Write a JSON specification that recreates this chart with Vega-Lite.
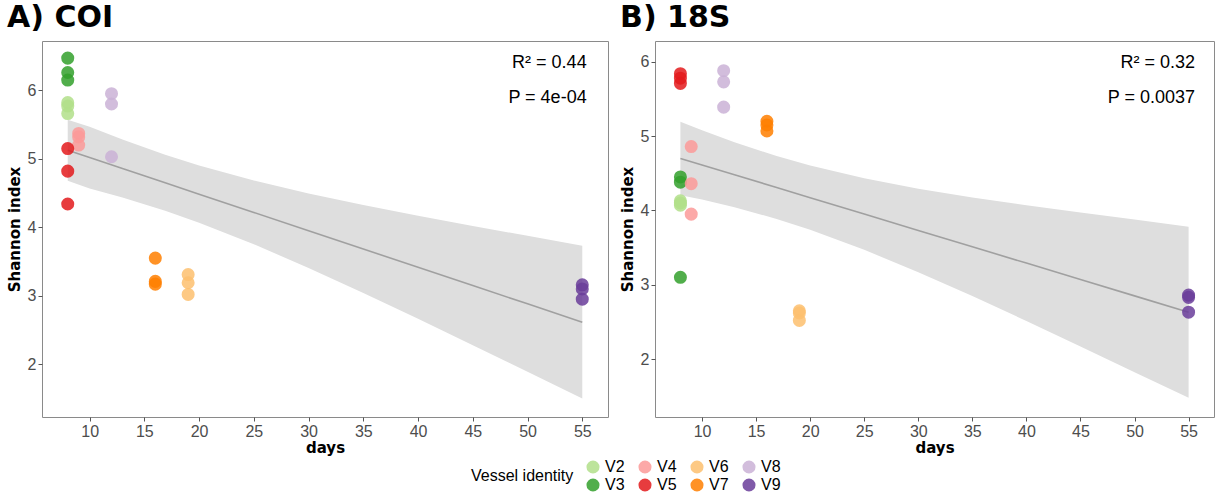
{
  "$schema": "https://vega.github.io/schema/vega-lite/v6.json",
  "padding": {"left": 6, "top": 2, "right": 0, "bottom": 0},
  "background": "white",
  "spacing": 10,
  "config": {
    "view": {"stroke": "#8a8a8a", "strokeWidth": 1},
    "axis": {
      "domain": false,
      "grid": false,
      "ticks": true,
      "tickColor": "#555555",
      "tickSize": 4,
      "labelColor": "#4d4d4d",
      "labelFont": "Liberation Sans",
      "labelFontSize": 16,
      "labelPadding": 2,
      "titleFont": "DejaVu Sans",
      "titleFontSize": 15,
      "titleFontWeight": "bold",
      "titleColor": "black"
    },
    "title": {"font": "DejaVu Sans", "fontSize": 30, "fontWeight": "bold", "color": "black", "anchor": "start", "frame": "bounds", "offset": 8},
    "legend": {"labelFont": "Liberation Sans", "titleFont": "Liberation Sans"}
  },
  "datasets": {
    "pts": [
      {"panel": "COI", "vessel": "V2", "days": 8, "shannon": 5.82},
      {"panel": "COI", "vessel": "V2", "days": 8, "shannon": 5.77},
      {"panel": "COI", "vessel": "V2", "days": 8, "shannon": 5.66},
      {"panel": "COI", "vessel": "V3", "days": 8, "shannon": 6.47},
      {"panel": "COI", "vessel": "V3", "days": 8, "shannon": 6.26},
      {"panel": "COI", "vessel": "V3", "days": 8, "shannon": 6.15},
      {"panel": "COI", "vessel": "V4", "days": 9, "shannon": 5.37},
      {"panel": "COI", "vessel": "V4", "days": 9, "shannon": 5.32},
      {"panel": "COI", "vessel": "V4", "days": 9, "shannon": 5.2},
      {"panel": "COI", "vessel": "V5", "days": 8, "shannon": 5.15},
      {"panel": "COI", "vessel": "V5", "days": 8, "shannon": 4.82},
      {"panel": "COI", "vessel": "V5", "days": 8, "shannon": 4.34},
      {"panel": "COI", "vessel": "V6", "days": 19, "shannon": 3.31},
      {"panel": "COI", "vessel": "V6", "days": 19, "shannon": 3.19},
      {"panel": "COI", "vessel": "V6", "days": 19, "shannon": 3.02},
      {"panel": "COI", "vessel": "V7", "days": 16, "shannon": 3.55},
      {"panel": "COI", "vessel": "V7", "days": 16, "shannon": 3.21},
      {"panel": "COI", "vessel": "V7", "days": 16, "shannon": 3.17},
      {"panel": "COI", "vessel": "V8", "days": 12, "shannon": 5.95},
      {"panel": "COI", "vessel": "V8", "days": 12, "shannon": 5.8},
      {"panel": "COI", "vessel": "V8", "days": 12, "shannon": 5.03},
      {"panel": "COI", "vessel": "V9", "days": 55, "shannon": 3.16},
      {"panel": "COI", "vessel": "V9", "days": 55, "shannon": 3.1},
      {"panel": "COI", "vessel": "V9", "days": 55, "shannon": 2.95},
      {"panel": "18S", "vessel": "V2", "days": 8, "shannon": 4.13},
      {"panel": "18S", "vessel": "V2", "days": 8, "shannon": 4.1},
      {"panel": "18S", "vessel": "V2", "days": 8, "shannon": 4.07},
      {"panel": "18S", "vessel": "V3", "days": 8, "shannon": 4.45},
      {"panel": "18S", "vessel": "V3", "days": 8, "shannon": 4.38},
      {"panel": "18S", "vessel": "V3", "days": 8, "shannon": 3.1},
      {"panel": "18S", "vessel": "V4", "days": 9, "shannon": 4.86},
      {"panel": "18S", "vessel": "V4", "days": 9, "shannon": 4.36},
      {"panel": "18S", "vessel": "V4", "days": 9, "shannon": 3.95},
      {"panel": "18S", "vessel": "V5", "days": 8, "shannon": 5.84},
      {"panel": "18S", "vessel": "V5", "days": 8, "shannon": 5.78},
      {"panel": "18S", "vessel": "V5", "days": 8, "shannon": 5.71},
      {"panel": "18S", "vessel": "V6", "days": 19, "shannon": 2.65},
      {"panel": "18S", "vessel": "V6", "days": 19, "shannon": 2.62},
      {"panel": "18S", "vessel": "V6", "days": 19, "shannon": 2.52},
      {"panel": "18S", "vessel": "V7", "days": 16, "shannon": 5.2},
      {"panel": "18S", "vessel": "V7", "days": 16, "shannon": 5.15},
      {"panel": "18S", "vessel": "V7", "days": 16, "shannon": 5.07},
      {"panel": "18S", "vessel": "V8", "days": 12, "shannon": 5.88},
      {"panel": "18S", "vessel": "V8", "days": 12, "shannon": 5.73},
      {"panel": "18S", "vessel": "V8", "days": 12, "shannon": 5.39},
      {"panel": "18S", "vessel": "V9", "days": 55, "shannon": 2.86},
      {"panel": "18S", "vessel": "V9", "days": 55, "shannon": 2.83},
      {"panel": "18S", "vessel": "V9", "days": 55, "shannon": 2.63}
    ],
    "fit": [
      {"panel": "COI", "days": 8, "fit": 5.125, "lo": 4.68, "hi": 5.57},
      {"panel": "COI", "days": 10, "fit": 5.018, "lo": 4.568, "hi": 5.468},
      {"panel": "COI", "days": 13, "fit": 4.858, "lo": 4.436, "hi": 5.28},
      {"panel": "COI", "days": 16.9, "fit": 4.65, "lo": 4.242, "hi": 5.058},
      {"panel": "COI", "days": 20, "fit": 4.484, "lo": 4.067, "hi": 4.901},
      {"panel": "COI", "days": 25, "fit": 4.217, "lo": 3.752, "hi": 4.682},
      {"panel": "COI", "days": 30, "fit": 3.95, "lo": 3.407, "hi": 4.493},
      {"panel": "COI", "days": 35, "fit": 3.683, "lo": 3.041, "hi": 4.325},
      {"panel": "COI", "days": 40, "fit": 3.416, "lo": 2.663, "hi": 4.169},
      {"panel": "COI", "days": 45, "fit": 3.149, "lo": 2.278, "hi": 4.02},
      {"panel": "COI", "days": 50, "fit": 2.882, "lo": 1.889, "hi": 3.875},
      {"panel": "COI", "days": 55, "fit": 2.615, "lo": 1.5, "hi": 3.73},
      {"panel": "18S", "days": 8, "fit": 4.7, "lo": 4.205, "hi": 5.195},
      {"panel": "18S", "days": 10, "fit": 4.612, "lo": 4.146, "hi": 5.078},
      {"panel": "18S", "days": 13, "fit": 4.48, "lo": 4.043, "hi": 4.917},
      {"panel": "18S", "days": 16.9, "fit": 4.308, "lo": 3.886, "hi": 4.731},
      {"panel": "18S", "days": 20, "fit": 4.172, "lo": 3.74, "hi": 4.604},
      {"panel": "18S", "days": 25, "fit": 3.951, "lo": 3.47, "hi": 4.432},
      {"panel": "18S", "days": 30, "fit": 3.731, "lo": 3.169, "hi": 4.293},
      {"panel": "18S", "days": 35, "fit": 3.511, "lo": 2.847, "hi": 4.175},
      {"panel": "18S", "days": 40, "fit": 3.291, "lo": 2.512, "hi": 4.07},
      {"panel": "18S", "days": 45, "fit": 3.071, "lo": 2.17, "hi": 3.972},
      {"panel": "18S", "days": 50, "fit": 2.85, "lo": 1.822, "hi": 3.878},
      {"panel": "18S", "days": 55, "fit": 2.63, "lo": 1.48, "hi": 3.78}
    ]
  },
  "hconcat": [
    {
      "title": "A) COI",
      "width": 566,
      "height": 376,
      "layer": [
        {
          "data": {"name": "fit"},
          "transform": [{"filter": "datum.panel === 'COI'"}],
          "mark": {"type": "area", "color": "#dedede", "opacity": 1},
          "encoding": {
            "x": {"field": "days", "type": "quantitative", "scale": {"domain": [5.65, 57.35], "nice": false, "zero": false}, "axis": {"values": [10, 15, 20, 25, 30, 35, 40, 45, 50, 55], "format": "d", "title": "days", "titlePadding": 1}},
            "y": {"field": "lo", "type": "quantitative", "scale": {"domain": [1.23, 6.72], "nice": false, "zero": false}, "axis": {"values": [2, 3, 4, 5, 6], "format": "d", "title": "Shannon index", "titlePadding": 5}},
            "y2": {"field": "hi"}
          }
        },
        {
          "data": {"name": "fit"},
          "transform": [{"filter": "datum.panel === 'COI'"}],
          "mark": {"type": "line", "color": "#a0a0a0", "strokeWidth": 1.6},
          "encoding": {
            "x": {"field": "days", "type": "quantitative"},
            "y": {"field": "fit", "type": "quantitative"}
          }
        },
        {
          "data": {"name": "pts"},
          "transform": [{"filter": "datum.panel === 'COI'"}],
          "mark": {"type": "circle", "size": 170, "opacity": 0.85},
          "encoding": {
            "x": {"field": "days", "type": "quantitative"},
            "y": {"field": "shannon", "type": "quantitative"},
            "color": {
              "field": "vessel", "type": "nominal",
              "scale": {"domain": ["V2", "V4", "V6", "V8", "V3", "V5", "V7", "V9"], "range": ["#b2df8a", "#fb9a99", "#fdbf6f", "#cab2d6", "#33a02c", "#e31a1c", "#ff7f00", "#6a3d9a"]},
              "legend": {"title": "Vessel identity", "orient": "none", "legendX": 429, "legendY": 418, "columns": 4, "direction": "horizontal", "titleOrient": "left", "titleFontSize": 16, "titleFontWeight": "normal", "titleColor": "black", "titleBaseline": "middle", "labelFontSize": 16, "labelColor": "black", "symbolSize": 170, "symbolType": "circle", "symbolOpacity": 0.85, "columnPadding": 12, "rowPadding": 2, "titlePadding": 11}
            }
          }
        },
        {
          "data": {"values": [{}]},
          "mark": {"type": "text", "align": "right", "baseline": "middle", "font": "Liberation Sans", "fontSize": 18, "color": "black"},
          "encoding": {"x": {"datum": 55.4}, "y": {"datum": 6.4}, "text": {"value": "R² = 0.44"}}
        },
        {
          "data": {"values": [{}]},
          "mark": {"type": "text", "align": "right", "baseline": "middle", "font": "Liberation Sans", "fontSize": 18, "color": "black"},
          "encoding": {"x": {"datum": 55.4}, "y": {"datum": 5.89}, "text": {"value": "P  = 4e-04"}}
        }
      ]
    },
    {
      "title": "B) 18S",
      "width": 559,
      "height": 376,
      "layer": [
        {
          "data": {"name": "fit"},
          "transform": [{"filter": "datum.panel === '18S'"}],
          "mark": {"type": "area", "color": "#dedede", "opacity": 1},
          "encoding": {
            "x": {"field": "days", "type": "quantitative", "scale": {"domain": [5.65, 57.35], "nice": false, "zero": false}, "axis": {"values": [10, 15, 20, 25, 30, 35, 40, 45, 50, 55], "format": "d", "title": "days", "titlePadding": 1}},
            "y": {"field": "lo", "type": "quantitative", "scale": {"domain": [1.22, 6.28], "nice": false, "zero": false}, "axis": {"values": [2, 3, 4, 5, 6], "format": "d", "title": "Shannon index", "titlePadding": 5}},
            "y2": {"field": "hi"}
          }
        },
        {
          "data": {"name": "fit"},
          "transform": [{"filter": "datum.panel === '18S'"}],
          "mark": {"type": "line", "color": "#a0a0a0", "strokeWidth": 1.6},
          "encoding": {
            "x": {"field": "days", "type": "quantitative"},
            "y": {"field": "fit", "type": "quantitative"}
          }
        },
        {
          "data": {"name": "pts"},
          "transform": [{"filter": "datum.panel === '18S'"}],
          "mark": {"type": "circle", "size": 170, "opacity": 0.85},
          "encoding": {
            "x": {"field": "days", "type": "quantitative"},
            "y": {"field": "shannon", "type": "quantitative"},
            "color": {"field": "vessel", "type": "nominal"}
          }
        },
        {
          "data": {"values": [{}]},
          "mark": {"type": "text", "align": "right", "baseline": "middle", "font": "Liberation Sans", "fontSize": 18, "color": "black"},
          "encoding": {"x": {"datum": 55.6}, "y": {"datum": 5.98}, "text": {"value": "R² = 0.32"}}
        },
        {
          "data": {"values": [{}]},
          "mark": {"type": "text", "align": "right", "baseline": "middle", "font": "Liberation Sans", "fontSize": 18, "color": "black"},
          "encoding": {"x": {"datum": 55.6}, "y": {"datum": 5.51}, "text": {"value": "P = 0.0037"}}
        }
      ]
    }
  ]
}
